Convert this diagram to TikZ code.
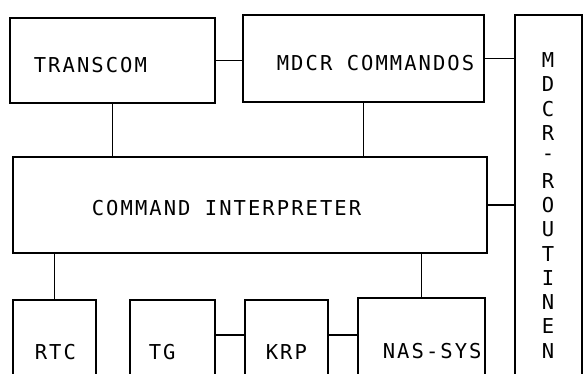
\documentclass[tikz,border=0pt]{standalone}
\usepackage{fontspec}
\usepackage{tikz}
\newfontfamily\dotfont[LetterSpace=10]{DejaVu Sans Mono}

\begin{document}
\begin{tikzpicture}[x=1pt,y=-1pt,line width=1.7pt,
  blk/.style 2 args={draw,inner sep=0,minimum width=#1,minimum height=#2},
  lbl/.style={font=\dotfont\fontsize{20.5}{23}\selectfont,inner sep=0}]
\useasboundingbox (0,0) rectangle (583,374);
\clip (0,0) rectangle (583,374);
\node[blk={205}{85}] (transcom) at (112.5,60.5) {};
\node[blk={241}{87}] (mdcr) at (363.5,58.5) {};
\node[blk={67}{385}] (routinen) at (548.5,207.5) {};
\node[blk={474}{96}] (ci) at (250,205) {};
\node[blk={83}{100}] (rtc) at (54.5,350) {};
\node[blk={85}{100}] (tg) at (172.5,350) {};
\node[blk={83}{100}] (krp) at (286.5,350) {};
\node[blk={127}{102}] (nas) at (421.5,349) {};
\node[lbl,anchor=west] (transcomT) at (33,65) {TRANSCOM};
\node[lbl,anchor=west] (mdcrT) at (276,63) {MDCR COMMANDOS};
\node[lbl,anchor=west] (ciT) at (91,208) {COMMAND INTERPRETER};
\node[lbl,anchor=west] (rtcT) at (34,352) {RTC};
\node[lbl,anchor=west] (tgT) at (148,352) {TG};
\node[lbl,anchor=west] (krpT) at (265,352) {KRP};
\node[lbl,anchor=west] (nasT) at (382,351) {NAS-SYS};
\foreach \ch [count=\i] in {M,D,C,R,-,R,O,U,T,I,N,E,N}
  \node[lbl] (r\i) at (548,36+24.2*\i) {\ch};
\draw (transcom.east) -- (transcom.east -| mdcr.west);
\draw (mdcr.east) -- (mdcr.east -| routinen.west);
\draw (transcom.south) -- (transcom.south |- ci.north);
\draw (mdcr.south) -- (mdcr.south |- ci.north);
\draw (ci.east) -- (ci.east -| routinen.west);
\draw (rtc.north) -- (rtc.north |- ci.south);
\draw (nas.north) -- (nas.north |- ci.south);
\draw ([yshift=-36pt]tg.north east) -- ([yshift=-36pt]krp.north west);
\draw ([yshift=-36pt]krp.north east) -- ([yshift=-36pt]krp.north east -| nas.west);
\end{tikzpicture}
\end{document}
